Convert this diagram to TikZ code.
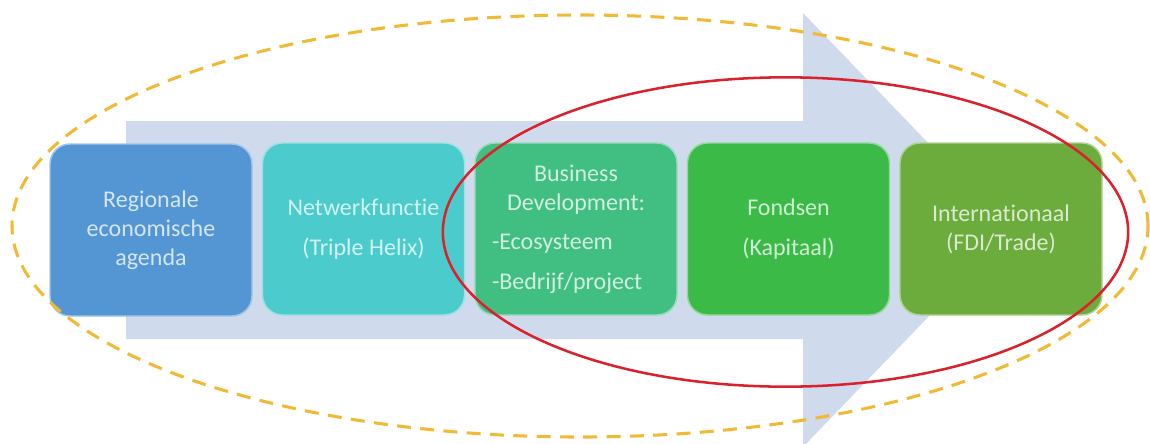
\documentclass[tikz,border=0pt]{standalone}
\usepackage{fontspec}
\setmainfont{Carlito}[Ligatures={NoCommon}]
\definecolor{arrowfill}{RGB}{207,218,236}
\definecolor{cA}{RGB}{84,150,212}
\definecolor{cB}{RGB}{75,203,204}
\definecolor{cC}{RGB}{65,190,130}
\definecolor{cD}{RGB}{60,186,72}
\definecolor{cE}{RGB}{108,172,60}
\definecolor{redline}{RGB}{218,34,44}
\definecolor{dashline}{RGB}{242,186,52}
\tikzset{
  stagebox/.style={rounded corners=15pt, minimum width=151.5pt, minimum height=129pt,
    inner sep=2pt, line width=1.1pt, align=center,
    font=\fontsize{18pt}{21.75pt}\selectfont},
  stage/.style={stagebox, fill=#1, draw=white!45!#1, text=white!75!#1}
}
\begin{document}
\begin{tikzpicture}[x=0.75pt,y=-0.75pt]
\useasboundingbox (0,0) rectangle (1150,443);
% big background arrow
\fill[arrowfill] (126,121) -- (803,121) -- (803,13) -- (1012,230) -- (803,447)
  -- (803,339) -- (126,339) -- cycle;
% stages
\node[stage=cA] (regio) at (151,230) {Regionale\\economische\\agenda};
\node[stage=cB] (netwerk) at (363.5,229) {Netwerkfunctie\\[8.5pt](Triple Helix)};
\node[stage=cC, text width=126pt, align=left] (business) at (576,229)
  {{\centering Business\\Development:\par}\vspace{7.5pt}%
   -Ecosysteem\par\vspace{8.5pt}%
   -Bedrijf/project};
\node[stage=cD] (fondsen) at (788.5,229) {Fondsen\\[8.5pt](Kapitaal)};
\node[stage=cE] (inter) at (1001,229) {Internationaal\\(FDI/Trade)};
% ellipses
\draw[dashline, line width=2.3pt, dash pattern=on 10.5pt off 7pt]
  (580,226) ellipse [x radius=426pt, y radius=158.25pt];
\draw[redline, line width=1.9pt]
  (785.5,232) ellipse [x radius=257pt, y radius=116pt];
\end{tikzpicture}
\end{document}
